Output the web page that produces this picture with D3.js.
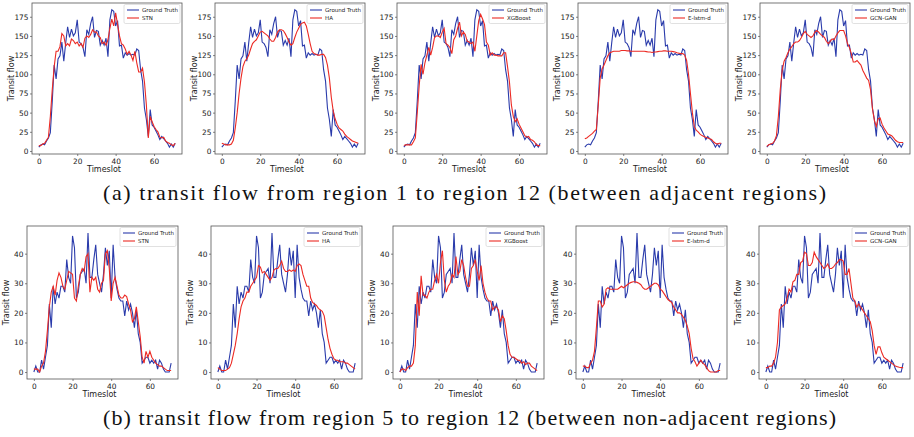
<!DOCTYPE html>
<html>
<head>
<meta charset="utf-8">
<script src="https://cdn.jsdelivr.net/npm/d3@7"></script>
<style>
  body { margin: 0; background: #fff; }
  svg { display: block; }
  .tick text { font-family: "DejaVu Sans", sans-serif; }
  .caption { font-family: "Liberation Serif", "Times New Roman", Times, serif; font-size: 22px; }
</style>
</head>
<body>
<div id="svg-container"></div>
<script>
// Data: 72 timeslots per day
var timeslots = d3.range(72);
var xTicks = [0, 20, 40, 60];
var yTicksA = [0, 25, 50, 75, 100, 125, 150, 175];
var yTicksB = [0, 10, 20, 30, 40];
var methods = ["STN", "HA", "XGBoost", "E-lstm-d", "GCN-GAN"];

// (a) region 1 -> region 12
var truthA = [5, 8, 9, 8, 13, 17, 24, 65, 112, 94, 120, 124, 142, 117, 141, 162, 148, 159, 150, 154,
  171, 142, 140, 135, 123, 158, 152, 166, 175, 148, 157, 156, 138, 144, 138, 147, 123, 171, 184, 182,
  163, 170, 137, 138, 121, 128, 125, 127, 125, 126, 125, 133, 131, 106, 91, 56, 41, 19, 54, 34,
  31, 26, 21, 15, 19, 16, 13, 10, 5, 9, 5, 10];
var stnA = [7, 7, 9, 10, 14, 18, 45, 80, 110, 130, 130, 136, 153, 150, 137, 140, 137, 146, 144, 140,
  142, 137, 140, 135, 147, 150, 148, 152, 158, 155, 155, 150, 148, 140, 142, 138, 145, 160, 172, 163,
  180, 165, 150, 140, 138, 133, 126, 130, 125, 118, 130, 115, 103, 103, 108, 90, 60, 17, 45, 38,
  32, 28, 25, 18, 17, 18, 13, 11, 10, 8, 7, 10];
var haA = [10, 9, 8, 8, 8, 9, 14, 30, 50, 75, 95, 110, 117, 120, 125, 133, 140, 143, 145, 150,
  155, 156, 154, 152, 150, 146, 143, 143, 148, 155, 158, 158, 157, 153, 148, 142, 138, 140, 148, 155,
  160, 165, 167, 168, 163, 152, 140, 130, 127, 126, 125, 125, 126, 126, 122, 112, 95, 70, 52, 42,
  35, 30, 28, 26, 22, 19, 17, 15, 13, 12, 11, 10];
var xgbA = [7, 8, 8, 8, 8, 12, 17, 50, 85, 113, 100, 115, 125, 135, 125, 135, 148, 150, 150, 148,
  155, 160, 140, 138, 135, 127, 145, 150, 160, 168, 150, 155, 152, 143, 142, 140, 142, 130, 150, 170,
  178, 172, 165, 142, 138, 125, 128, 125, 125, 124, 124, 124, 128, 128, 110, 90, 60, 45, 38, 42,
  35, 30, 25, 20, 18, 19, 15, 14, 12, 8, 7, 7];
var elstmA = [16, 17, 19, 21, 23, 26, 28, 60, 95, 107, 112, 118, 124, 128, 129, 130, 130, 130, 130, 131,
  131, 131, 130.5, 130.5, 130, 130, 130, 130, 130, 130, 130, 130, 129.5, 129, 129, 128.5, 129, 129, 129.5, 130,
  130, 130.5, 130.5, 130, 130, 130, 129.5, 129, 128, 127.5, 127, 127, 125, 118, 100, 75, 50, 32, 27, 25,
  22, 20, 19, 18, 17, 16, 15, 12, 10, 9, 10, 10];
var gcnA = [6, 8, 9, 10, 13, 20, 45, 80, 105, 117, 122, 128, 133, 136, 140, 142, 142, 144, 148, 153,
  156, 152, 150, 148, 150, 155, 157, 155, 152, 150, 148, 143, 140, 143, 146, 145, 150, 154, 157, 157,
  157, 150, 140, 135, 127, 116, 116, 118, 115, 112, 105, 100, 95, 92, 80, 55, 40, 32, 42, 43,
  35, 30, 26, 22, 21, 20, 17, 14, 12, 11, 11, 11];

// (b) region 5 -> region 12
var truthB = [0, 2, 0, 0, 4, 1, 5, 9, 23, 15, 29, 23, 27, 25, 29, 29, 27, 38, 32, 30,
  46, 42, 25, 27, 33, 34, 35, 30, 47, 32, 32, 38, 43, 33, 30, 27, 33, 42, 36, 41,
  25, 43, 32, 28, 25, 24, 24, 19, 24, 21, 23, 20, 15, 21, 13, 10, 3, 4, 5, 5,
  3, 4, 3, 4, 1, 4, 3, 1, 0, 0, 0, 3];
var stnB = [1, 1, 1, 0, 2, 3, 7, 14, 22, 27, 29, 26, 31, 33.5, 32, 29, 28, 31, 34, 33.5,
  33, 25, 24, 29, 33, 35, 34, 39, 40, 27, 32, 31, 32, 28, 27, 30, 31, 40, 41, 35,
  24, 30, 32, 29, 26, 25, 25, 26, 25.5, 23, 21, 17, 18, 22, 17, 12, 5, 3, 7, 5,
  7, 5, 4, 3, 2.5, 2, 2, 1.5, 1, 0.5, 0.5, 0.5];
var haB = [1.5, 1, 0.5, 0.5, 0.5, 1, 1.5, 3, 6, 9, 13, 18, 22, 24, 25, 27, 27, 29, 30, 31,
  32, 36, 35.5, 33.5, 34, 33, 32, 31, 32, 34.5, 35, 35, 36, 37.5, 35, 34, 34, 34.5, 34, 34.5,
  34, 36, 36.5, 36, 33, 31, 29, 29, 25, 23.5, 23, 22.5, 21.5, 21, 20.5, 19, 15, 11, 8, 6,
  4.5, 4, 4, 3.5, 3.5, 3.5, 3, 3, 2.5, 2, 1.5, 1];
var xgbB = [0, 1, 1, 0.5, 1.5, 2, 2, 3, 9, 27, 19, 32.5, 26, 26, 25, 27, 28, 28, 31, 33,
  30, 37, 41, 31, 27, 29, 30, 33, 32, 39, 33, 34, 38, 36, 32, 29, 29, 35, 36, 38,
  34, 31, 36, 30, 27, 25, 24, 24, 21, 22, 22, 21, 17, 19, 18, 14, 9, 6, 5, 5,
  4.5, 4, 4, 3, 3.5, 2.5, 3, 3, 2, 1.5, 1, 0.5];
var elstmB = [2, 2, 1.5, 1.5, 3, 4, 7, 15, 24, 24, 22, 23, 28, 28.5, 28, 28, 28, 28, 28, 28.5,
  29, 28.5, 29, 29.5, 30, 30.3, 30.5, 30.5, 30.3, 30, 29.5, 28.5, 28, 28, 28.5, 29, 29.5, 30, 30, 29.5,
  28, 27.5, 26.5, 25.5, 24.5, 24, 23.5, 22, 21, 20, 20, 19.5, 18.5, 17.5, 15.5, 13, 8, 4.5, 3.5, 2,
  3, 4, 3, 2.5, 1.5, 0.5, 0, 0, 0, 0, 0.5, 0.5];
var gcnB = [1.5, 1.5, 2, 2, 3, 5, 10, 21, 22, 22.5, 23, 25, 28, 27, 30.5, 31, 33, 33, 37, 37.5,
  40.5, 40, 36, 36, 37, 40.5, 39, 38, 37, 36, 35, 35.5, 36.5, 35, 35, 35.5, 36.5, 37, 38, 38,
  37.5, 33, 33, 35, 30, 25, 24, 22, 23, 22, 21, 20, 19, 18, 17, 14, 9, 6, 8.5, 8.5,
  6.5, 5, 4.5, 4, 3.5, 3, 2.5, 2, 1.8, 1.6, 1.5, 1.5];

var predsA = [stnA, haA, xgbA, elstmA, gcnA];
var predsB = [stnB, haB, xgbB, elstmB, gcnB];

var W = 914, H = 437;
var blue = "#2a3bab", red = "#ec2a24";

var svg = d3.select("#svg-container")
  .append("svg")
  .attr("width", W)
  .attr("height", H);

// panel frames (left, top, width, height)
var rowA = { lefts: [32, 215, 397, 578, 760], top: 3, width: 150, height: 151 };
var rowB = { lefts: [27, 211, 393, 576, 759], top: 226, width: 151, height: 153 };

function drawPanel(left, row, truth, pred, name, yTicks) {
  var g = svg.append("g").attr("transform", "translate(" + left + "," + row.top + ")");

  var x = d3.scaleLinear().domain([-3.55, 74.55]).range([0, row.width]);
  var lo = Math.min(d3.min(truth), d3.min(pred)), hi = Math.max(d3.max(truth), d3.max(pred));
  var pad = (hi - lo) * 0.05;
  var y = d3.scaleLinear().domain([lo - pad, hi + pad]).range([row.height, 0]);

  var line = d3.line()
    .x(function(d, i) { return x(timeslots[i]); })
    .y(function(d) { return y(d); });

  g.append("path").datum(truth)
    .attr("d", line).attr("fill", "none")
    .attr("stroke", blue).attr("stroke-width", 1.1);
  g.append("path").datum(pred)
    .attr("d", line).attr("fill", "none")
    .attr("stroke", red).attr("stroke-width", 1.1);

  // axes
  var xAxis = g.append("g")
    .attr("transform", "translate(0," + row.height + ")")
    .call(d3.axisBottom(x).tickValues(xTicks).tickSize(2).tickPadding(2.5).tickFormat(d3.format("d")));
  var yAxis = g.append("g")
    .call(d3.axisLeft(y).tickValues(yTicks).tickSize(2).tickPadding(1.5).tickFormat(d3.format("d")));
  [xAxis, yAxis].forEach(function(a) {
    a.select(".domain").remove();
    a.selectAll(".tick line").attr("stroke", "#333").attr("stroke-width", 0.6);
    a.selectAll(".tick text").attr("fill", "#222").style("font-size", "7.4px");
  });

  // frame
  g.append("rect")
    .attr("width", row.width).attr("height", row.height)
    .attr("fill", "none").attr("stroke", "#555").attr("stroke-width", 0.8);

  g.append("text")
    .attr("x", row.width / 2 - 3).attr("y", row.height + 18)
    .attr("text-anchor", "middle")
    .style("font-family", "DejaVu Sans").style("font-size", "8px").attr("fill", "#222")
    .text("Timeslot");
  g.append("text")
    .attr("transform", "translate(-18.5," + (row.height / 2) + ") rotate(-90)")
    .attr("text-anchor", "middle")
    .style("font-family", "DejaVu Sans").style("font-size", "8px").attr("fill", "#222")
    .text("Transit flow");

  // legend
  var lg = g.append("g").attr("transform", "translate(" + (row.width - 58) + ",1.5)");
  lg.append("rect").attr("width", 56).attr("height", 19).attr("rx", 1.5)
    .attr("fill", "#fff").attr("stroke", "#ccc").attr("stroke-width", 0.6);
  [["Ground Truth", blue], [name, red]].forEach(function(e, i) {
    var yy = 5.5 + i * 8;
    lg.append("line").attr("x1", 3).attr("x2", 15).attr("y1", yy).attr("y2", yy)
      .attr("stroke", e[1]).attr("stroke-width", 1.1);
    lg.append("text").attr("x", 18).attr("y", yy + 2)
      .style("font-family", "DejaVu Sans").style("font-size", "5.5px").attr("fill", "#222")
      .text(e[0]);
  });
}

methods.forEach(function(m, i) {
  drawPanel(rowA.lefts[i], rowA, truthA, predsA[i], m, yTicksA);
  drawPanel(rowB.lefts[i], rowB, truthB, predsB[i], m, yTicksB);
});

var captions = [
  { text: "(a) transit flow from region 1 to region 12 (between adjacent regions)", x: 103, y: 200, len: 723 },
  { text: "(b) transit flow from region 5 to region 12 (between non-adjacent regions)", x: 103, y: 425, len: 733 }
];
captions.forEach(function(c) {
  svg.append("text")
    .attr("class", "caption")
    .attr("x", c.x).attr("y", c.y)
    .attr("textLength", c.len).attr("lengthAdjust", "spacing")
    .attr("fill", "#111")
    .text(c.text);
});
</script>
</body>
</html>
